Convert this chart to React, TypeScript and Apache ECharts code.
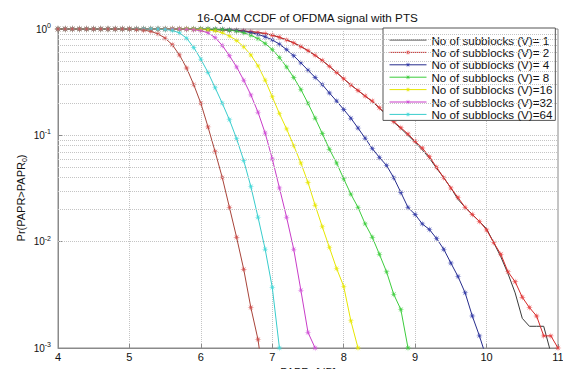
import React, { useEffect, useRef } from "react";
import * as echarts from "echarts";

// PAPR0 grid (dB)
const PAPR0 = [
  4.0, 4.1, 4.2, 4.3, 4.4, 4.5, 4.6, 4.7, 4.8, 4.9,
  5.0, 5.1, 5.2, 5.3, 5.4, 5.5, 5.6, 5.7, 5.8, 5.9,
  6.0, 6.1, 6.2, 6.3, 6.4, 6.5, 6.6, 6.7, 6.8, 6.9,
  7.0, 7.1, 7.2, 7.3, 7.4, 7.5, 7.6, 7.7, 7.8, 7.9,
  8.0, 8.1, 8.2, 8.3, 8.4, 8.5, 8.6, 8.7, 8.8, 8.9,
  9.0, 9.1, 9.2, 9.3, 9.4, 9.5, 9.6, 9.7, 9.8, 9.9,
  10.0, 10.1, 10.2, 10.3, 10.4, 10.5, 10.6, 10.7, 10.8, 10.9,
  11.0,
];

const V1 = [
  1, 1, 1, 1, 1, 1, 1, 1, 1, 1,
  1, 1, 1, 1, 1, 0.999, 0.999, 0.998, 0.997, 0.995,
  0.993, 0.99, 0.986, 0.981, 0.975, 0.967, 0.957, 0.944, 0.928, 0.905,
  0.875, 0.835, 0.79, 0.74, 0.685, 0.625, 0.565, 0.505, 0.445, 0.39,
  0.34, 0.298, 0.264, 0.234, 0.208, 0.18, 0.155, 0.133, 0.116, 0.1,
  0.086, 0.073, 0.061, 0.049, 0.04, 0.032, 0.025, 0.021, 0.018, 0.0155,
  0.0132, 0.0098, 0.0072, 0.005, 0.0033, 0.0019, 0.0016, 0.0016, 0.0016, 0.0009,
];
const V2 = [
  1, 1, 1, 1, 1, 1, 1, 1, 1, 1,
  1, 1, 1, 1, 1, 0.999, 0.999, 0.998, 0.997, 0.995,
  0.993, 0.99, 0.986, 0.981, 0.975, 0.967, 0.957, 0.944, 0.928, 0.905,
  0.875, 0.835, 0.79, 0.74, 0.685, 0.625, 0.565, 0.505, 0.445, 0.39,
  0.34, 0.298, 0.264, 0.234, 0.21, 0.182, 0.157, 0.135, 0.118, 0.103,
  0.088, 0.076, 0.063, 0.05, 0.04, 0.032, 0.026, 0.021, 0.018, 0.0155,
  0.0129, 0.0098, 0.0076, 0.0052, 0.0042, 0.003, 0.0024, 0.002, 0.0013, 0.0013,
  0.001,
];
const V4 = [
  1, 1, 1, 1, 1, 1, 1, 1, 1, 1,
  1, 1, 1, 1, 1, 1, 1, 1, 0.999, 0.999,
  0.998, 0.996, 0.993, 0.988, 0.98, 0.968, 0.95, 0.925, 0.89, 0.845,
  0.79, 0.72, 0.64, 0.56, 0.48, 0.41, 0.35, 0.3, 0.25, 0.21,
  0.175, 0.145, 0.117, 0.094, 0.075, 0.062, 0.052, 0.04, 0.029, 0.021,
  0.018, 0.0147, 0.013, 0.0107, 0.0085, 0.0063, 0.0047, 0.0033, 0.002, 0.0013,
  0.0008,
];
const V8 = [
  1, 1, 1, 1, 1, 1, 1, 1, 1, 1,
  1, 1, 1, 1, 1, 1, 1, 1, 1, 1,
  1, 0.998, 0.995, 0.988, 0.975, 0.955, 0.92, 0.875, 0.81, 0.73,
  0.64, 0.54, 0.44, 0.35, 0.27, 0.2, 0.145, 0.104, 0.074, 0.055,
  0.039, 0.028, 0.021, 0.0147, 0.011, 0.0076, 0.0052, 0.0032, 0.0023, 0.001,
];
const V16 = [
  1, 1, 1, 1, 1, 1, 1, 1, 1, 1,
  1, 1, 1, 1, 1, 1, 1, 1, 0.999, 0.996,
  0.99, 0.98, 0.96, 0.92, 0.86, 0.78, 0.68, 0.57, 0.45, 0.33,
  0.23, 0.16, 0.115, 0.08, 0.055, 0.036, 0.022, 0.0138, 0.0088, 0.0056,
  0.0038, 0.0018, 0.001,
];
const V32 = [
  1, 1, 1, 1, 1, 1, 1, 1, 1, 1,
  1, 1, 1, 1, 1, 1, 1, 0.998, 0.995, 0.985,
  0.965, 0.92, 0.83, 0.7, 0.56, 0.44, 0.33, 0.24, 0.165, 0.105,
  0.06, 0.032, 0.017, 0.0085, 0.0035, 0.0014, 0.001,
];
const V64 = [
  1, 1, 1, 1, 1, 1, 1, 1, 1, 1,
  1, 1, 1, 1, 0.998, 0.99, 0.97, 0.92, 0.82, 0.67,
  0.52, 0.39, 0.28, 0.2, 0.14, 0.093, 0.058, 0.033, 0.017, 0.0085,
  0.0037, 0.001,
];
// eighth curve (not in the legend), drawn last
const EXTRA = [
  1, 1, 1, 1, 1, 1, 1, 1, 1, 1,
  0.998, 0.99, 0.975, 0.95, 0.9, 0.82, 0.71, 0.57, 0.43, 0.3,
  0.2, 0.12, 0.07, 0.04, 0.021, 0.011, 0.0055, 0.0024, 0.0012, 0.0004,
];

const LEGEND_NAMES = [
  "No of subblocks (V)= 1",
  "No of subblocks (V)= 2",
  "No of subblocks (V)= 4",
  "No of subblocks (V)= 8",
  "No of subblocks (V)=16",
  "No of subblocks (V)=32",
  "No of subblocks (V)=64",
];
const LINE_COLORS = ["#3a3a3a", "#d42a2a", "#262c8c", "#3ccc3c", "#e6e600", "#c83cc8", "#38cccc"];
const MARK_COLORS = ["#3a3a3a", "#e63c3c", "#3038a8", "#3ccc3c", "#e6e600", "#d050d8", "#40d8d8"];
const EXTRA_LINE = "#a8443a";
const EXTRA_MARK = "#d04a48";

const MINOR_Y = [
  0.002, 0.003, 0.004, 0.005, 0.006, 0.007, 0.008, 0.009,
  0.02, 0.03, 0.04, 0.05, 0.06, 0.07, 0.08, 0.09,
  0.2, 0.3, 0.4, 0.5, 0.6, 0.7, 0.8, 0.9,
];

const FONT = "'Liberation Sans', Arial, sans-serif";

// asterisk-like marker shape
const STAR = (() => {
  let d = "";
  for (let k = 0; k < 16; k++) {
    const a = (k * Math.PI) / 8;
    const r = k % 2 === 0 ? 10 : 3;
    const x = (10 + r * Math.sin(a)).toFixed(2);
    const y = (10 - r * Math.cos(a)).toFixed(2);
    d += (k === 0 ? "M" : "L") + x + " " + y + " ";
  }
  return "path://" + d + "Z";
})();

function mk(name: string, values: number[], color: string, marker: boolean, mcolor: string) {
  return {
    type: "line",
    name,
    data: values.map((v, i) => [PAPR0[i], v]),
    symbol: STAR,
    symbolSize: 7,
    showSymbol: marker,
    showAllSymbol: true,
    lineStyle: { color, width: 1, type: "solid" },
    itemStyle: { color: mcolor, opacity: marker ? 0.85 : 0 },
    clip: true,
    z: 2,
  };
}

export default function App() {
  const ref = useRef<HTMLDivElement>(null);
  useEffect(() => {
    if (!ref.current) return;
    const chart = echarts.init(ref.current, undefined, { renderer: "svg" });
    chart.setOption({
      animation: false,
      backgroundColor: "#ffffff",
      textStyle: { fontFamily: FONT },
      title: {
        text: "16-QAM CCDF of OFDMA signal with PTS",
        left: 197,
        top: 11,
        padding: 0,
        textStyle: { fontSize: 11.7, fontWeight: "normal", color: "#111", fontFamily: FONT },
      },
      grid: {
        show: true,
        left: 58,
        right: 5,
        top: 29,
        bottom: 21,
        outerBoundsMode: "none",
        containLabel: false,
        borderColor: "#8a8a8a",
        borderWidth: 1,
        backgroundColor: "transparent",
      },
      legend: {
        data: LEGEND_NAMES.map((n, i) => ({
          name: n,
          itemStyle: { color: MARK_COLORS[i], opacity: i === 0 ? 0 : 1, borderWidth: 0 },
          lineStyle: { color: LINE_COLORS[i], width: 1, opacity: 1, type: "solid" },
        })),
        orient: "vertical",
        left: 383,
        top: 28,
        padding: [6, 3, 0, 6],
        itemWidth: 37,
        itemHeight: 7,
        itemGap: 0.4,
        itemTextGap: 2,
        selectedMode: false,
        inactiveColor: "#d42a2a",
        inactiveBorderColor: "#d42a2a",
        backgroundColor: "#ffffff",
        borderColor: "#555",
        borderWidth: 1,
        textStyle: { fontSize: 11.6, color: "#111", fontFamily: FONT, lineHeight: 12 },
      },
      xAxis: {
        type: "value",
        min: 4,
        max: 11,
        interval: 1,
        axisLine: { show: true, lineStyle: { color: "#8a8a8a" } },
        axisTick: { show: true, inside: true, length: 4, lineStyle: { color: "#8a8a8a" } },
        axisLabel: { color: "#111", fontSize: 11, margin: 3, fontFamily: FONT },
        splitLine: { show: true, lineStyle: { type: "dotted", color: "#c4c4c4", width: 1 } },
        name: "{a|PAPR}{s|0}{a| [dB]}",
        nameLocation: "middle",
        nameGap: 12,
        nameTextStyle: {
          rich: {
            a: { fontSize: 11, color: "#111", fontFamily: FONT, lineHeight: 13 },
            s: { fontSize: 7, color: "#111", fontFamily: FONT, verticalAlign: "bottom" },
          },
        },
      },
      yAxis: {
        type: "log",
        logBase: 10,
        min: 0.001,
        max: 1,
        axisLine: { show: true, lineStyle: { color: "#8a8a8a" } },
        axisTick: { show: true, inside: true, length: 4, lineStyle: { color: "#8a8a8a" } },
        axisLabel: {
          margin: 7,
          formatter: (v: number) => `{b|10}{s|${Math.round(Math.log10(v))}}`,
          rich: {
            b: { fontSize: 10, color: "#111", fontFamily: FONT, lineHeight: 14 },
            s: { fontSize: 7, color: "#111", fontFamily: FONT, verticalAlign: "top" },
          },
        },
        splitLine: { show: true, lineStyle: { type: "dotted", color: "#c4c4c4", width: 1 } },
      },
      graphic: [
        {
          type: "text",
          x: 21,
          y: 198,
          rotation: Math.PI / 2,
          style: {
            text: "{a|Pr(PAPR>PAPR}{s|0}{a|)}",
            align: "center",
            verticalAlign: "middle",
            rich: {
              a: { fontSize: 11, fill: "#111", fontFamily: FONT, lineHeight: 14 },
              s: { fontSize: 7, fill: "#111", fontFamily: FONT, verticalAlign: "bottom" },
            },
          },
        },
      ],
      series: [
        {
          type: "line",
          name: "__minor_grid",
          data: [],
          z: 1,
          markLine: {
            silent: true,
            symbol: "none",
            label: { show: false },
            lineStyle: { type: "dotted", color: "#c4c4c4", width: 1 },
            data: MINOR_Y.map((v) => ({ yAxis: v })),
          },
        },
        mk(LEGEND_NAMES[0], V1, LINE_COLORS[0], false, MARK_COLORS[0]),
        mk(LEGEND_NAMES[1], V2, LINE_COLORS[1], true, MARK_COLORS[1]),
        mk(LEGEND_NAMES[2], V4, LINE_COLORS[2], true, MARK_COLORS[2]),
        mk(LEGEND_NAMES[3], V8, LINE_COLORS[3], true, MARK_COLORS[3]),
        mk(LEGEND_NAMES[4], V16, LINE_COLORS[4], true, MARK_COLORS[4]),
        mk(LEGEND_NAMES[5], V32, LINE_COLORS[5], true, MARK_COLORS[5]),
        mk(LEGEND_NAMES[6], V64, LINE_COLORS[6], true, MARK_COLORS[6]),
        mk("PTS extra curve", EXTRA, EXTRA_LINE, true, EXTRA_MARK),
      ],
    });
    return () => chart.dispose();
  }, []);
  return (
    <div
      ref={ref}
      style={{ position: "fixed", left: 0, top: 0, width: 563, height: 369 }}
    />
  );
}
